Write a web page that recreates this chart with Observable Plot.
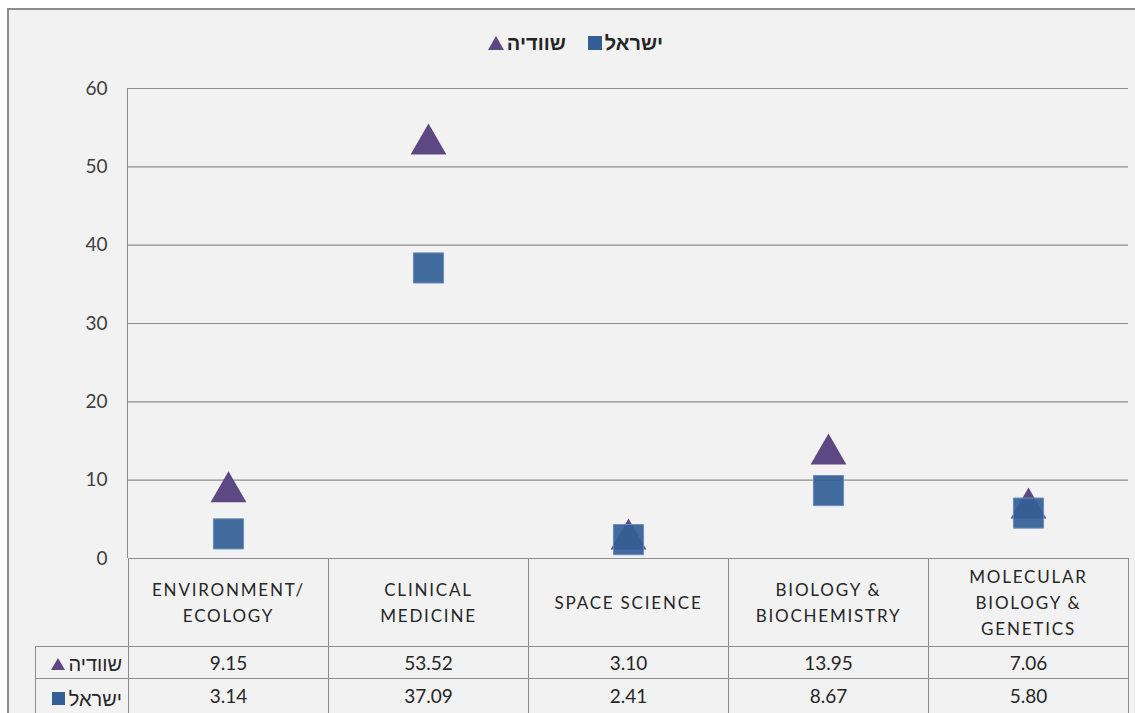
<!DOCTYPE html>
<html>
<head>
<meta charset="utf-8">
<script src="https://cdn.jsdelivr.net/npm/d3@7"></script>
<script src="https://cdn.jsdelivr.net/npm/@observablehq/plot@0.6"></script>
<style>
  html, body { margin: 0; padding: 0; background: #ffffff; }
  body { width: 1135px; height: 713px; position: relative; overflow: hidden;
         font-family: Lato, "Liberation Sans", sans-serif; color: #404040; }
  #frame { position: absolute; left: 7px; top: 8px; width: 1140px; height: 720px;
           background: #f2f2f2; border-left: 2px solid #8d8d8d; border-top: 2px solid #8d8d8d; }
  #legend { position: absolute; left: 8px; top: 28px; width: 1135px; text-align: center;
            font-size: 20px; font-weight: bold; color: #262626; white-space: nowrap; }
  #legend span { display: inline-block; vertical-align: middle; }
  .key { margin: 0 3px 0 0; }
  .tri { width: 0; height: 0; border-left: 8px solid transparent; border-right: 8px solid transparent;
         border-bottom: 14px solid #5e4883; }
  .sq { width: 14px; height: 14px; background: #335f96; }
  #chart { position: absolute; left: 0; top: 70px; }
  #table { position: absolute; left: 35px; top: 558px; border-collapse: collapse; table-layout: fixed;
           font-size: 19px; color: #262626; }
  #table td { border: 1px solid #8d8d8d; text-align: center; padding: 0; }
  #table tr.head td { height: 87px; white-space: pre-line; line-height: 26px; letter-spacing: 1.8px; font-size: 17px; }
  #table tr.head td.blank { border: none; border-right: 1px solid #8d8d8d; }
  #table tr.row td { height: 31px; }
  #table tr.row2 td { height: 40px; vertical-align: top; padding-top: 5px; }
  #table td.lab { text-align: right; padding-right: 6px; direction: ltr; white-space: nowrap; font-size: 20px; }
  #table td.lab span { display: inline-block; vertical-align: middle; }
</style>
</head>
<body>
<div id="frame"></div>
<div id="legend"></div>
<div id="chart"></div>
<table id="table"></table>
<script>
// ---- data ----
const categories = ["ENVIRONMENT/\nECOLOGY", "CLINICAL\nMEDICINE", "SPACE SCIENCE", "BIOLOGY &\nBIOCHEMISTRY", "MOLECULAR\nBIOLOGY &\nGENETICS"];
const seriesNames = ["שוודיה", "ישראל"];
const sweden = [9.15, 53.52, 3.10, 13.95, 7.06];
const israel = [3.14, 37.09, 2.41, 8.67, 5.80];
const yTicks = [0, 10, 20, 30, 40, 50, 60];

const colors = {sweden: "#5e4883", israel: "#335f96"};

const dataSweden = categories.map((c, i) => ({category: c, value: sweden[i]}));
const dataIsrael = categories.map((c, i) => ({category: c, value: israel[i]}));

// ---- legend ----
const legend = document.getElementById("legend");
legend.innerHTML =
  `<span class="key tri"></span><span dir="rtl">${seriesNames[0]}</span>` +
  `<span style="width:22px"></span>` +
  `<span class="key sq"></span><span dir="rtl">${seriesNames[1]}</span>`;

// ---- chart ----
const chart = Plot.plot({
  width: 1135,
  height: 500,
  marginTop: 18,
  marginBottom: 12,
  marginLeft: 128,
  marginRight: 7,
  style: {background: "transparent", fontFamily: "Lato, 'Liberation Sans', sans-serif", fontSize: "19px", color: "#404040"},
  x: {type: "band", domain: categories, padding: 0, axis: null},
  y: {domain: [0, 60], axis: null},
  marks: [
    Plot.gridY(yTicks, {stroke: "#8d8d8d", strokeOpacity: 1, strokeWidth: 1.2}),
    Plot.axisY(yTicks, {tickSize: 0, tickPadding: 21, fontSize: 19, fill: "#404040", tickFormat: d => d, label: null}),
    Plot.dot(dataSweden, {x: "category", y: "value", symbol: "triangle", r: 13.3, dy: 5,
      fill: colors.sweden, stroke: "none"}),
    Plot.dot(dataIsrael, {x: "category", y: "value", symbol: "square", r: 17,
      fill: colors.israel, fillOpacity: 0.92, stroke: "#6a8cbd", strokeWidth: 1})
  ]
});
document.getElementById("chart").appendChild(chart);

// ---- data table ----
const table = document.getElementById("table");
const colgroup = document.createElement("colgroup");
colgroup.innerHTML = `<col style="width:93px">` + categories.map(() => `<col style="width:200px">`).join("");
table.appendChild(colgroup);
const head = document.createElement("tr");
head.className = "head";
head.innerHTML = `<td class="blank"></td>` + categories.map(c => `<td>${c}</td>`).join("");
table.appendChild(head);
const r1 = document.createElement("tr");
r1.className = "row";
r1.innerHTML = `<td class="lab"><span style="width:0;height:0;border-left:7px solid transparent;border-right:7px solid transparent;border-bottom:12px solid ${colors.sweden};margin-right:3px"></span><span dir="rtl">${seriesNames[0]}</span></td>` +
  sweden.map(v => `<td>${v.toFixed(2)}</td>`).join("");
table.appendChild(r1);
const r2 = document.createElement("tr");
r2.className = "row2";
r2.innerHTML = `<td class="lab" style="vertical-align:top;padding-top:5px"><span style="width:13px;height:13px;background:${colors.israel};margin-right:4px"></span><span dir="rtl">${seriesNames[1]}</span></td>` +
  israel.map(v => `<td>${v.toFixed(2)}</td>`).join("");
table.appendChild(r2);

// left axis line continuing from the plot area through the table
const axisLine = document.createElement("div");
axisLine.style.cssText = "position:absolute;left:127px;top:88px;width:1px;height:470px;background:#8d8d8d";
document.body.appendChild(axisLine);
</script>
</body>
</html>
